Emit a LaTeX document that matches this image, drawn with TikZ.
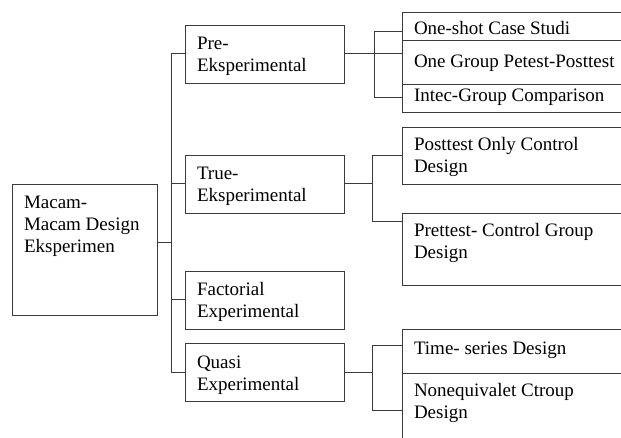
\documentclass[tikz,border=0pt]{standalone}
\usepackage{fontspec}
\setmainfont{Liberation Serif}
\definecolor{cline}{HTML}{3A3A3A}
\newcommand{\cellbox}[4][9.6pt]{\parbox[t][#3][t]{\dimexpr#2-24pt\relax}{\vspace*{#1}\strut#4}}
\tikzset{
  every picture/.style={font=\fontsize{19}{22}\selectfont, line width=0.9pt},
  cell/.style={draw=cline, anchor=north west, inner xsep=12pt, inner ysep=0pt, outer sep=0pt},
  link/.style={draw=cline, line width=1pt},
}
\begin{document}
\begin{tikzpicture}[x=1pt, y=-1pt]
  \useasboundingbox (0,0) rectangle (621,438);
  \clip (0,0) rectangle (621,438);
  % root
  \node[cell] (root) at (12,184) {\cellbox{145pt}{131pt}{Macam-\\Macam Design\\Eksperimen}};
  % design groups
  \node[cell] (pre) at (185,25) {\cellbox{159pt}{58pt}{Pre-\\Eksperimental}};
  \node[cell] (tru) at (185,155) {\cellbox{159pt}{58pt}{True-\\Eksperimental}};
  \node[cell] (fac) at (185,271) {\cellbox{159pt}{58pt}{Factorial\\Experimental}};
  \node[cell] (qua) at (185,343) {\cellbox{159pt}{58pt}{Quasi\\Experimental}};
  % designs
  \node[cell] (os) at (402,12) {\cellbox[6.9pt]{240pt}{28pt}{One-shot Case Studi}};
  \node[cell] (og) at (402,40) {\cellbox[12.3pt]{240pt}{44pt}{One Group Petest-Posttest}};
  \node[cell] (ig) at (402,84) {\cellbox[2.6pt]{240pt}{28pt}{Intec-Group Comparison}};
  \node[cell] (pc) at (402,127) {\cellbox[8.3pt]{240pt}{57pt}{Posttest Only Control\\Design}};
  \node[cell] (pg) at (402,213) {\cellbox[8.3pt]{240pt}{72pt}{Prettest- Control Group\\Design}};
  \node[cell] (ts) at (402,329) {\cellbox{240pt}{44pt}{Time- series Design}};
  \node[cell] (nc) at (402,373) {\cellbox[7.6pt]{240pt}{80pt}{Nonequivalet Ctroup\\Design}};
  % trunk
  \coordinate (trunk) at (171,0);
  \coordinate (rootout) at ([yshift=7pt]root.east);
  \draw[link] (rootout) -- (trunk |- rootout);
  \draw[link] (pre.west) -- (trunk |- pre.west) -- (trunk |- qua.west) -- (qua.west);
  \foreach \n in {tru,fac} \draw[link] (\n.west) -- (trunk |- \n.west);
  % pre-experimental branch
  \draw[link] (pre.east) -- (pre.east -| og.west);
  \draw[link] ([yshift=-6pt]os.west) -- ++(-28pt,0) |- (ig.west);
  % true-experimental branch
  \draw[link] (tru.east) -- ++(28pt,0);
  \draw[link] (pc.west) -- ++(-30pt,0) |- ([yshift=-9pt]pg.north west);
  % quasi branch
  \draw[link] (qua.east) -- ++(28pt,0);
  \draw[link] ([yshift=6pt]ts.west) -- ++(-30pt,0) |- ([yshift=-37pt]nc.north west);
\end{tikzpicture}
\end{document}
